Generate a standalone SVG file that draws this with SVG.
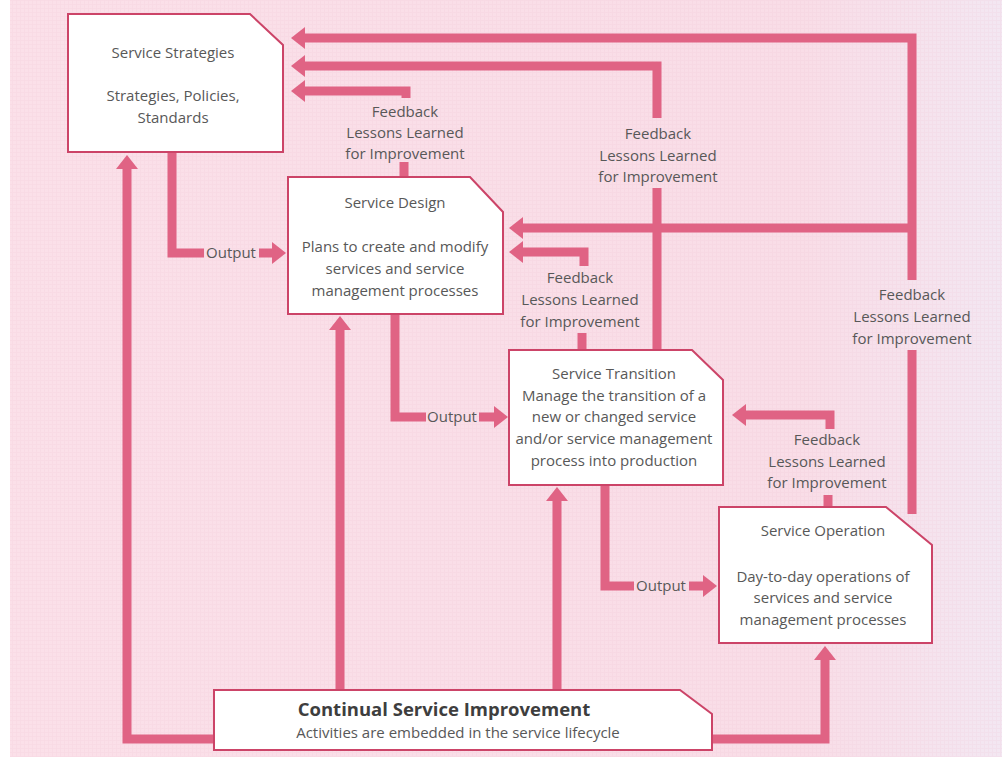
<svg xmlns="http://www.w3.org/2000/svg" width="1002" height="757" viewBox="0 0 1002 757">
  <style>
    .box { fill: #ffffff; stroke: #cc4468; stroke-width: 2; }
    .t { font-family: "Open Sans", "Noto Sans", "Liberation Sans", sans-serif; font-size: 15px; fill: #585858; text-anchor: middle; }
    .tb { font-family: "Open Sans", "Noto Sans", "Liberation Sans", sans-serif; font-size: 18.5px; font-weight: bold; fill: #3e3e3e; text-anchor: middle; }
    .flow { fill: none; stroke: #e06384; stroke-width: 9; stroke-linejoin: miter; stroke-linecap: butt; }
    .arrow { marker-end: url(#ah); }
  </style>
  <defs>
    <marker id="ah" markerUnits="userSpaceOnUse" markerWidth="14" markerHeight="22" viewBox="0 0 14 22" refX="3" refY="11" orient="auto">
      <path d="M0,0 L14,11 L0,22 z" fill="#e06384"/>
    </marker>
    <linearGradient id="bg" x1="0" y1="0" x2="1" y2="0">
      <stop offset="0" stop-color="#fbe0e9"/>
      <stop offset="0.8" stop-color="#f9dde7"/>
      <stop offset="1" stop-color="#f3e7f2"/>
    </linearGradient>
    <pattern id="grid" width="4" height="4" patternUnits="userSpaceOnUse">
      <path d="M0,0.5 H4 M0.5,0 V4" stroke="#ecbfcf" stroke-width="1" opacity="0.18"/>
    </pattern>
  </defs>

  <!-- page -->
  <rect width="1002" height="757" fill="#ffffff"/>
  <rect x="10" y="0" width="992" height="757" fill="url(#bg)"/>
  <rect x="10" y="0" width="992" height="757" fill="url(#grid)"/>

  <!-- connectors -->
  <g id="connectors">
    <!-- feedback from Service Operation -->
    <path class="flow arrow" d="M912,280 V38 H302"/>
    <path class="flow arrow" d="M912,228 H520"/>
    <path class="flow" d="M912,350 V514"/>
    <!-- feedback from Service Transition to Strategies -->
    <path class="flow arrow" d="M657,118 V66 H302"/>
    <path class="flow" d="M657,188 V351"/>
    <!-- feedback from Service Design to Strategies -->
    <path class="flow arrow" d="M406,98 V91 H302"/>
    <path class="flow" d="M404,162 V178"/>
    <!-- feedback from Service Transition to Design -->
    <path class="flow arrow" d="M584,266 V252 H520"/>
    <path class="flow" d="M582,333 V351"/>
    <!-- feedback from Service Operation to Transition -->
    <path class="flow arrow" d="M830,429 V415 H743"/>
    <path class="flow" d="M828,495 V508"/>

    <!-- outputs -->
    <path class="flow" d="M172,153 V253 H204"/>
    <path class="flow arrow" d="M259,253 H275"/>
    <path class="flow" d="M395,315 V417 H426"/>
    <path class="flow arrow" d="M479,417 H497"/>
    <path class="flow" d="M605,486 V586 H634"/>
    <path class="flow arrow" d="M689,586 H706"/>

    <!-- continual service improvement links -->
    <path class="flow arrow" d="M214,739 H127 V166"/>
    <path class="flow arrow" d="M340,690 V327"/>
    <path class="flow arrow" d="M557,690 V498"/>
    <path class="flow arrow" d="M707,739 H825 V657"/>

    <text class="t" x="231" y="258">Output</text>
    <text class="t" x="452" y="422">Output</text>
    <text class="t" x="661" y="591">Output</text>

    <text class="t" x="405" y="117">Feedback</text>
    <text class="t" x="405" y="138">Lessons Learned</text>
    <text class="t" x="405" y="159">for Improvement</text>

    <text class="t" x="658" y="139">Feedback</text>
    <text class="t" x="658" y="161">Lessons Learned</text>
    <text class="t" x="658" y="182">for Improvement</text>

    <text class="t" x="580" y="283">Feedback</text>
    <text class="t" x="580" y="305">Lessons Learned</text>
    <text class="t" x="580" y="327">for Improvement</text>

    <text class="t" x="827" y="445">Feedback</text>
    <text class="t" x="827" y="467">Lessons Learned</text>
    <text class="t" x="827" y="488">for Improvement</text>

    <text class="t" x="912" y="300">Feedback</text>
    <text class="t" x="912" y="322">Lessons Learned</text>
    <text class="t" x="912" y="344">for Improvement</text>
  </g>

  <g id="service-strategies">
    <path class="box" d="M68,14 H250 L283,45 V152 H68 Z"/>
    <text class="t" x="173" y="58">Service Strategies</text>
    <text class="t" x="173" y="101">Strategies, Policies,</text>
    <text class="t" x="173" y="123">Standards</text>
  </g>

  <g id="service-design">
    <path class="box" d="M288,177 H470 L503,212 V314 H288 Z"/>
    <text class="t" x="395" y="208">Service Design</text>
    <text class="t" x="395" y="252">Plans to create and modify</text>
    <text class="t" x="395" y="274">services and service</text>
    <text class="t" x="395" y="296">management processes</text>
  </g>

  <g id="service-transition">
    <path class="box" d="M509,350 H692 L723,380 V485 H509 Z"/>
    <text class="t" x="614" y="379">Service Transition</text>
    <text class="t" x="614" y="401">Manage the transition of a</text>
    <text class="t" x="614" y="422">new or changed service</text>
    <text class="t" x="614" y="444">and/or service management</text>
    <text class="t" x="614" y="466">process into production</text>
  </g>

  <g id="service-operation">
    <path class="box" d="M719,507 H886 L932,545 V643 H719 Z"/>
    <text class="t" x="823" y="536">Service Operation</text>
    <text class="t" x="823" y="582">Day-to-day operations of</text>
    <text class="t" x="823" y="603">services and service</text>
    <text class="t" x="823" y="625">management processes</text>
  </g>

  <g id="continual-service-improvement">
    <path class="box" d="M214,690 H680 L712,714 V750 H214 Z"/>
    <text class="tb" x="444" y="716">Continual Service Improvement</text>
    <text class="t" x="458" y="738">Activities are embedded in the service lifecycle</text>
  </g>
</svg>
